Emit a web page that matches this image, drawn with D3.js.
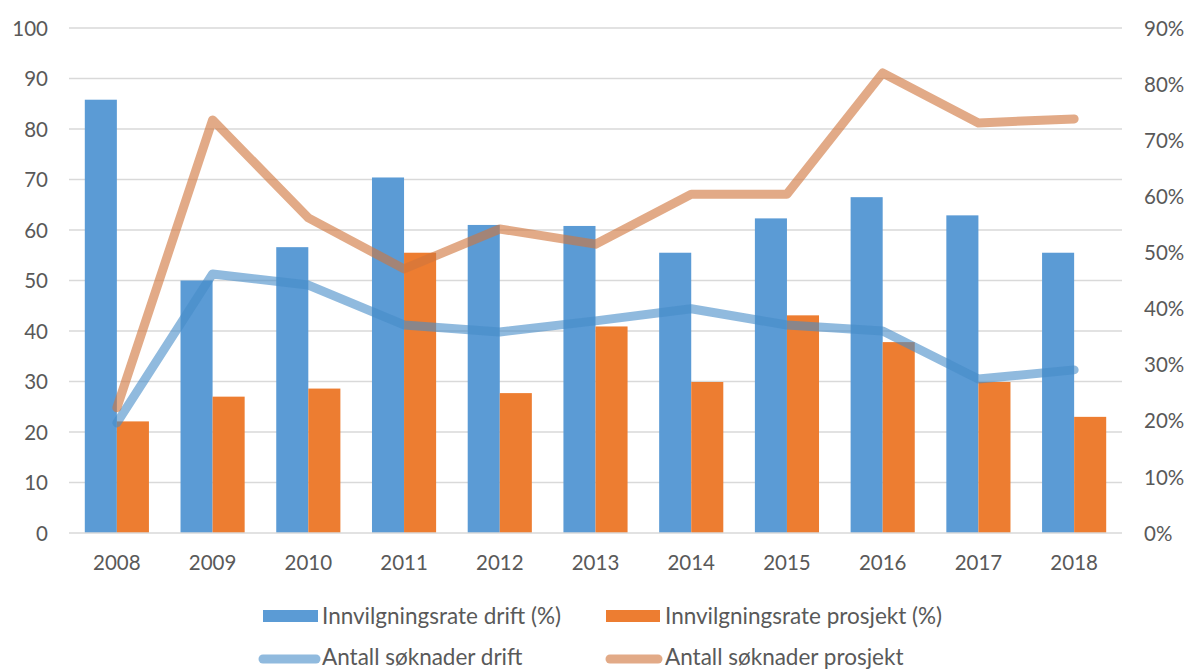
<!DOCTYPE html>
<html><head><meta charset="utf-8">
<script src="https://cdn.jsdelivr.net/npm/d3@7"></script>
<style>body{margin:0;background:#fff}svg text{font-family:Lato,"Open Sans",sans-serif;fill:#595959}</style>
</head><body><svg id="c" width="1189" height="671"></svg>
<script>
const years = ["2008","2009","2010","2011","2012","2013","2014","2015","2016","2017","2018"];
const rateDrift = [85.8, 50.0, 56.6, 70.4, 61.0, 60.8, 55.5, 62.3, 66.5, 62.9, 55.5];
const rateProsjekt = [22.1, 27.0, 28.6, 55.5, 27.7, 40.9, 29.9, 43.1, 37.8, 29.9, 23.0];
const soknDrift = [21.8, 51.3, 49.1, 41.2, 39.8, 42.0, 44.4, 41.2, 40.0, 30.5, 32.3];
const soknProsjekt = [24.8, 81.8, 62.4, 52.3, 60.2, 57.2, 67.1, 67.1, 91.1, 81.2, 82.0];
const leftTicks = [0,10,20,30,40,50,60,70,80,90,100];
const rightTicks = [0,10,20,30,40,50,60,70,80,90];
const seriesNames = ["Innvilgningsrate drift (%)","Innvilgningsrate prosjekt (%)","Antall søknader drift","Antall søknader prosjekt"];

const svg = d3.select("#c");
const x0 = 69, x1 = 1122, yTop = 28, yBot = 533;
const x = d3.scaleBand().domain(years).range([x0, x1]).paddingInner(0.33).paddingOuter(0.165);
const xs = d3.scaleBand().domain([0,1]).range([0, x.bandwidth()]);
const y = d3.scaleLinear().domain([0,100]).range([yBot, yTop]);
const yr = d3.scaleLinear().domain([0,90]).range([yBot, yTop]);
const axisFont = 20.5, legendFont = 22.5;

// gridlines
svg.append("g").selectAll("line").data(leftTicks.slice(1)).join("line")
  .attr("x1", x0).attr("x2", x1).attr("y1", d=>y(d)).attr("y2", d=>y(d))
  .attr("stroke", "#d9d9d9").attr("stroke-width", 1.3);

// left axis labels
const la = svg.append("g").attr("transform", `translate(${x0-21},0)`).call(d3.axisLeft(y).tickValues(leftTicks).tickSize(0).tickPadding(0));
la.select(".domain").remove();
la.selectAll("text").attr("font-size", axisFont).attr("fill","#595959").attr("dy","0.35em").attr("x", 0);
// right axis
const ra = svg.append("g").attr("transform", `translate(${x1+22},0)`).call(d3.axisRight(yr).tickValues(rightTicks).tickFormat(d=>d+"%").tickSize(0).tickPadding(0));
ra.select(".domain").remove();
ra.selectAll("text").attr("font-size", axisFont).attr("fill","#595959").attr("dy","0.35em");

// bars
const bars = svg.append("g");
bars.selectAll("rect.d").data(years).join("rect").attr("class","d")
  .attr("x", d=>x(d)+xs(0)).attr("width", xs.bandwidth())
  .attr("y", (d,i)=>y(rateDrift[i])).attr("height", (d,i)=>yBot - y(rateDrift[i]))
  .attr("fill", "#5b9bd5");
bars.selectAll("rect.p").data(years).join("rect").attr("class","p")
  .attr("x", d=>x(d)+xs(1)).attr("width", xs.bandwidth())
  .attr("y", (d,i)=>y(rateProsjekt[i])).attr("height", (d,i)=>yBot - y(rateProsjekt[i]))
  .attr("fill", "#ed7d31");

// x axis
svg.append("line").attr("x1", x0).attr("x2", x1).attr("y1", yBot).attr("y2", yBot).attr("stroke","#d9d9d9").attr("stroke-width",1.5);
const xa = svg.append("g").attr("transform", `translate(0,${yBot})`).call(d3.axisBottom(x).tickSize(0).tickPadding(0));
xa.select(".domain").remove();
xa.selectAll("text").attr("font-size", axisFont).attr("fill","#595959").attr("y", 37).attr("dy","0");

// lines
const cx = d => x(d) + x.bandwidth()/2;
const line = vals => d3.line().x((d,i)=>cx(years[i])).y(d=>y(d))(vals);
svg.append("path").attr("d", line(soknDrift)).attr("fill","none")
  .attr("stroke","rgb(70,140,200)").attr("stroke-opacity",0.6).attr("stroke-width",9)
  .attr("stroke-linecap","round").attr("stroke-linejoin","round");
svg.append("path").attr("d", line(soknProsjekt)).attr("fill","none")
  .attr("stroke","rgb(208,118,62)").attr("stroke-opacity",0.62).attr("stroke-width",9)
  .attr("stroke-linecap","round").attr("stroke-linejoin","round");

// legend
const lg = svg.append("g");
const legendPos = [[263,616],[606,616],[263,657],[606,657]];
lg.append("rect").attr("x",legendPos[0][0]).attr("y",legendPos[0][1]-6).attr("width",55).attr("height",12).attr("fill","#5b9bd5");
lg.append("rect").attr("x",legendPos[1][0]).attr("y",legendPos[1][1]-6).attr("width",54).attr("height",12).attr("fill","#ed7d31");
lg.append("line").attr("x1",legendPos[2][0]).attr("x2",legendPos[2][0]+53).attr("y1",legendPos[2][1]+2).attr("y2",legendPos[2][1]+2)
  .attr("stroke","rgb(70,140,200)").attr("stroke-opacity",0.6).attr("stroke-width",9).attr("stroke-linecap","round");
lg.append("line").attr("x1",legendPos[3][0]+4).attr("x2",legendPos[3][0]+52).attr("y1",legendPos[3][1]+2).attr("y2",legendPos[3][1]+2)
  .attr("stroke","rgb(208,118,62)").attr("stroke-opacity",0.62).attr("stroke-width",9).attr("stroke-linecap","round");
lg.selectAll("text").data(seriesNames).join("text")
  .attr("x",(d,i)=>legendPos[i][0]+59).attr("y",(d,i)=>legendPos[i][1]).attr("dy","0.35em")
  .attr("font-size",legendFont).text(d=>d);
</script></body></html>
